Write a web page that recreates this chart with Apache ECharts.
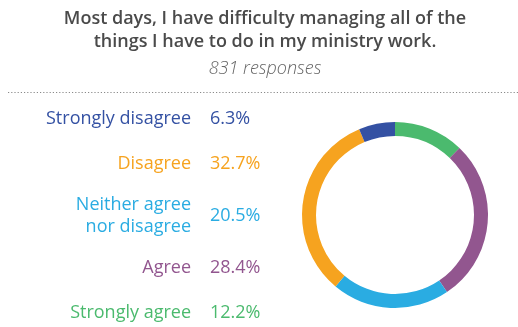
<!DOCTYPE html>
<html>
<head>
<meta charset="utf-8">
<script src="https://cdn.jsdelivr.net/npm/echarts@6/dist/echarts.min.js"></script>
<style>
  html, body { margin: 0; padding: 0; background: #fff; }
  #chart { width: 518px; height: 327px; }
</style>
</head>
<body>
<div id="chart"></div>
<script>
// Survey answers, in the order they run clockwise from 12 o'clock
const categories = ['Strongly agree', 'Agree', 'Neither agree\nnor disagree', 'Disagree', 'Strongly disagree'];
const values = [12.2, 28.4, 20.5, 32.7, 6.3];
const colors = ['#4bba6e', '#92568f', '#2aace2', '#f6a31f', '#3451a3'];

// Side list is read top-down, i.e. the reverse of the ring order
const listOrder = [4, 3, 2, 1, 0];
const listY = [119, 164, 216, 268, 312.5];

const FONT = '"Open Sans", "DejaVu Sans", sans-serif';

const listGraphics = [];
listOrder.forEach(function (idx, row) {
  listGraphics.push({
    type: 'text',
    x: 191,
    y: listY[row],
    style: {
      text: categories[idx],
      fill: colors[idx],
      font: '18px ' + FONT,
      textAlign: 'right',
      textVerticalAlign: 'middle',
      lineHeight: 22
    }
  });
  listGraphics.push({
    type: 'text',
    x: 210,
    y: listY[row],
    style: {
      text: values[idx].toFixed(1) + '%',
      fill: colors[idx],
      font: '18px ' + FONT,
      textAlign: 'left',
      textVerticalAlign: 'middle'
    }
  });
});

const chart = echarts.init(document.getElementById('chart'), null, { renderer: 'canvas' });
chart.setOption({
  animation: false,
  title: {
    text: 'Most days, I have difficulty managing all of the\nthings I have to do in my ministry work.',
    subtext: '831 responses',
    left: 260,
    textAlign: 'center',
    top: 2,
    itemGap: 7,
    textStyle: {
      fontFamily: FONT,
      fontSize: 18,
      fontWeight: 600,
      color: '#4a4a4a',
      lineHeight: 23
    },
    subtextStyle: {
      fontFamily: FONT,
      fontSize: 18,
      fontStyle: 'italic',
      fontWeight: 300,
      color: '#666'
    }
  },
  graphic: [
    {
      type: 'line',
      shape: { x1: 8, y1: 92.5, x2: 518, y2: 92.5 },
      style: { stroke: '#8a8a8a', lineWidth: 1, lineDash: [1.2, 2] }
    }
  ].concat(listGraphics),
  series: [{
    type: 'pie',
    center: [395, 215],
    radius: [79, 93],
    startAngle: 90,
    clockwise: true,
    label: { show: false },
    labelLine: { show: false },
    emphasis: { disabled: true },
    itemStyle: { borderWidth: 0 },
    data: categories.map(function (name, i) {
      return { name: name, value: values[i], itemStyle: { color: colors[i] } };
    })
  }]
});
</script>
</body>
</html>
